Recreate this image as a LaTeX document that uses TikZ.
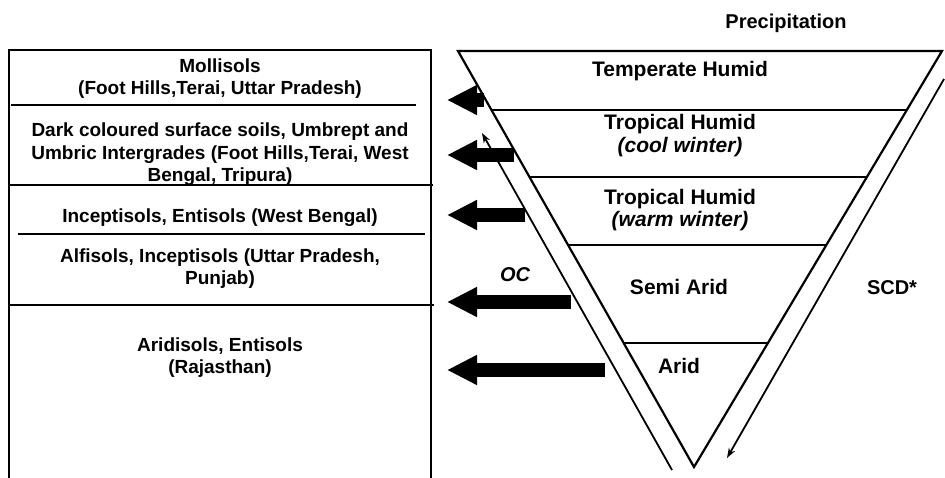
\documentclass[tikz,border=0pt]{standalone}
\usepackage{fontspec}
\setmainfont{Liberation Sans}
\usetikzlibrary{arrows.meta,calc}
\begin{document}
\begin{tikzpicture}[x=1pt,y=-1pt,
  boxline/.style={line width=1.6pt},
  divline/.style={line width=2.2pt},
  triline/.style={line width=2.2pt, line join=miter},
  bandline/.style={line width=1.8pt},
  bigarrow/.style={line width=14pt, -{Triangle[length=30pt,width=28pt]}},
  thinarrow/.style={line width=1.8pt, -{Stealth[length=10pt,width=7pt]}},
  soiltext/.style={anchor=base, inner sep=0pt, font=\bfseries\fontsize{19}{22}\selectfont},
  climtext/.style={anchor=base, inner sep=0pt, font=\bfseries\fontsize{21}{24}\selectfont},
  sidetext/.style={anchor=base, inner sep=0pt, font=\bfseries\fontsize{20}{24}\selectfont},
  ]
\useasboundingbox (0,0) rectangle (945,478);

% ---- left soil box ----
\coordinate (BL) at (9,478);
\coordinate (BTL) at (9,50);
\coordinate (BTR) at (431,50);
\coordinate (BR) at (431,478);
\draw[boxline] (BL) -- (BTL) -- (BTR) -- (BR);
\draw[divline] (11,105) -- (416,105);
\draw[divline] (9,185) -- (433,185);
\draw[divline] (18,234) -- (425,234);
\draw[divline] (9,305) -- (434,305);

\node[soiltext] (m1) at (220,73) {Mollisols};
\node[soiltext] (m2) at (220,95) {(Foot Hills,Terai, Uttar Pradesh)};
\node[soiltext] (d1) at (220,137) {Dark coloured surface soils, Umbrept and};
\node[soiltext] (d2) at (220,160) {Umbric Intergrades (Foot Hills,Terai, West};
\node[soiltext] (d3) at (220,182) {Bengal, Tripura)};
\node[soiltext] (i1) at (220,223) {Inceptisols, Entisols (West Bengal)};
\node[soiltext] (a1) at (220,263) {Alfisols, Inceptisols (Uttar Pradesh,};
\node[soiltext] (a2) at (220,285) {Punjab)};
\node[soiltext] (r1) at (220,352) {Aridisols, Entisols};
\node[soiltext] (r2) at (220,373) {(Rajasthan)};

% ---- climate triangle ----
\coordinate (TL) at (458,51);
\coordinate (TR) at (942,51);
\coordinate (AP) at (694,467);
\draw[triline] (AP) -- (TL) -- (TR) -- cycle;
\foreach \yy [count=\k] in {110,177,245,343}{
  \draw[bandline] ($(TL)!{(\yy-51)/416}!(AP)$) -- ($(TR)!{(\yy-51)/416}!(AP)$);
}

\node[sidetext] (prec) at (786,29) {Precipitation};
\node[climtext] (c1) at (680,77) {Temperate Humid};
\node[climtext] (c2) at (680,130) {Tropical Humid};
\node[climtext] (c3) at (680,153) {\itshape (cool winter)};
\node[climtext] (c4) at (680,205) {Tropical Humid};
\node[climtext] (c5) at (680,227) {\itshape (warm winter)};
\node[climtext] (c6) at (679,295) {Semi Arid};
\node[climtext] (c7) at (679,373) {Arid};

\node[sidetext] (oc) at (515,282) {\itshape OC};
\node[sidetext] (scd) at (892,295) {SCD*};

% ---- thin arrows along the sides ----
\coordinate (ocS) at (672,470);
\coordinate (ocE) at (482,133);
\coordinate (scdS) at (944,79);
\coordinate (scdE) at (727,458);
\draw[thinarrow] (ocS) -- (ocE);
\draw[thinarrow] (scdS) -- (scdE);

% ---- thick arrows ----
\foreach \tx/\yy [count=\k] in {484/100, 514/155, 525/215, 571/302, 605/370}{
  \coordinate (f\k s) at (\tx,\yy);
  \coordinate (f\k e) at (447,\yy);
  \draw[bigarrow] (f\k s) -- (f\k e);
}
\end{tikzpicture}
\end{document}
